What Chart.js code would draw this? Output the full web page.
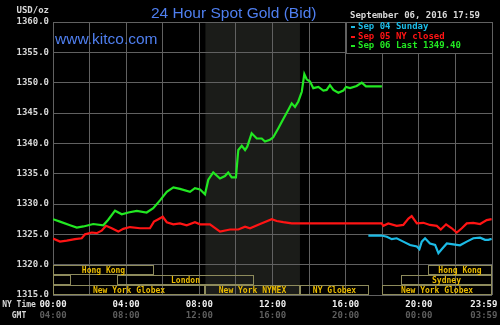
<!DOCTYPE html>
<html>
<head>
<meta charset="utf-8">
<title>24 Hour Spot Gold</title>
<script src="https://cdn.jsdelivr.net/npm/chart.js@4.4.1/dist/chart.umd.min.js"></script>
<style>
  html, body { margin: 0; padding: 0; background: #000; }
  canvas { display: block; }
</style>
</head>
<body>
<canvas id="gold-chart" width="500" height="325"></canvas>
<script>
// Hours after NY midnight, and bid prices (USD/oz) for each day
var sep06Hours = [0, 0.38, 0.93, 1.3, 1.66, 2.2, 2.75, 3.02, 3.39, 3.76, 4.12, 4.58, 5.12, 5.48, 5.85,
    6.22, 6.58, 6.94, 7.49, 7.76, 8.04, 8.31, 8.49, 8.76, 9.13, 9.4, 9.58, 9.77, 10.0, 10.13,
    10.32, 10.5, 10.62, 10.86, 11.14, 11.41, 11.59, 11.86, 12.04, 12.32, 12.59, 12.86, 13.05, 13.23, 13.41,
    13.6, 13.74, 13.87, 14.05, 14.23, 14.51, 14.78, 14.96, 15.14, 15.33, 15.6, 15.87, 16.02, 16.24, 16.6,
    16.88, 17.11, 17.51, 17.98];
var sep06Prices = [1327.5, 1327.1, 1326.5, 1326.1, 1326.3, 1326.7, 1326.5, 1327.4, 1328.9, 1328.3, 1328.6, 1328.85, 1328.6, 1329.3, 1330.6,
    1332.0, 1332.75, 1332.5, 1332.0, 1332.6, 1332.4, 1331.6, 1334.0, 1335.2, 1334.2, 1334.6, 1335.2, 1334.4, 1334.4, 1338.9,
    1339.6, 1338.9, 1339.45, 1341.65, 1340.8, 1340.8, 1340.3, 1340.6, 1341.0, 1342.5, 1344.0, 1345.5, 1346.6, 1346.0, 1346.9,
    1348.5, 1351.4, 1350.55, 1350.2, 1349.1, 1349.3, 1348.7, 1348.8, 1349.6, 1348.8, 1348.35, 1348.7, 1349.3, 1349.1, 1349.45,
    1350.0, 1349.4, 1349.4, 1349.4];

var sep05Hours = [0, 0.38, 0.75, 1.2, 1.57, 1.75, 2.12, 2.39, 2.66, 2.9, 3.21, 3.57, 3.84, 4.21, 4.76,
    5.3, 5.52, 5.76, 6.0, 6.22, 6.58, 6.94, 7.31, 7.76, 8.04, 8.58, 9.13, 9.68, 10.13, 10.5,
    10.77, 11.32, 11.96, 12.23, 12.59, 13.05, 17.97, 18.06, 18.33, 18.79, 19.15, 19.43, 19.61, 19.89, 20.25,
    20.61, 20.98, 21.2, 21.49, 21.8, 22.07, 22.35, 22.62, 22.98, 23.35, 23.71, 23.98];
var sep05Prices = [1324.3, 1323.8, 1323.95, 1324.2, 1324.35, 1325.0, 1325.3, 1325.2, 1325.6, 1326.4, 1326.0, 1325.45, 1325.9, 1326.2, 1326.0,
    1326.0, 1327.1, 1327.5, 1327.9, 1327.0, 1326.65, 1326.8, 1326.5, 1327.0, 1326.65, 1326.65, 1325.45, 1325.8, 1325.8, 1326.25,
    1326.0, 1326.7, 1327.5, 1327.2, 1327.0, 1326.8, 1326.8, 1326.4, 1326.8, 1326.4, 1326.55, 1327.6, 1328.0, 1326.8, 1326.9,
    1326.55, 1326.4, 1325.8, 1326.65, 1326.0, 1325.3, 1326.0, 1326.8, 1326.9, 1326.7, 1327.35, 1327.5];

var sep04Hours = [17.24, 17.97, 18.25, 18.52, 18.79, 19.15, 19.52, 19.89, 20.03, 20.16, 20.34, 20.61, 20.89, 21.07, 21.25,
    21.53, 21.89, 22.25, 22.62, 22.98, 23.35, 23.62, 23.8, 23.98];
var sep04Prices = [1324.8, 1324.8, 1324.6, 1324.2, 1324.35, 1323.8, 1323.25, 1323.0, 1322.55, 1323.8, 1324.35, 1323.5, 1323.25, 1321.9, 1322.55,
    1323.5, 1323.35, 1323.2, 1323.8, 1324.35, 1324.45, 1324.1, 1324.1, 1324.25];

// Trading sessions shown along the bottom (row 0 = top row)
var sessionNames = ['Hong Kong', 'Hong Kong', '', 'London', 'Sydney', 'New York Globex', 'New York NYMEX', 'NY Globex', 'New York Globex'];
var sessionStart = [0, 20.5, 0, 3.5, 19, 0, 8 + 20 / 60, 13.5, 18];
var sessionEnd = [5.5, 24, 1, 11, 24, 8 + 20 / 60, 13.5, 17.25, 24];
var sessionRow = [0, 0, 1, 1, 1, 2, 2, 2, 2];
var sessionFloor = 1320;

// NYMEX floor hours get a grey band
var nymexOpen = 8 + 20 / 60;
var nymexClose = 13.5;

var xTickHours = [0, 4, 8, 12, 16, 20, 24];
var yMin = 1315, yMax = 1360, yStep = 5;

var MONO = "'DejaVu Sans Mono', monospace";
var GRID = '#616161';

function toPoints(hours, prices) {
    return hours.map(function (h, i) { return { x: h, y: prices[i] }; });
}

function hhmm(h) {
    if (h >= 24) return '23:59';
    return (h < 10 ? '0' : '') + h + ':00';
}

function gmt(h) {
    if (h >= 24) return '03:59';
    var g = (h + 4) % 24;
    return (g < 10 ? '0' : '') + g + ':00';
}

var lastPrice = sep06Prices[sep06Prices.length - 1];

var datasets = [
    { label: 'Sep 06 Last ' + lastPrice.toFixed(2), data: toPoints(sep06Hours, sep06Prices), borderColor: '#22e822' },
    { label: 'Sep 05 NY closed', data: toPoints(sep05Hours, sep05Prices), borderColor: '#ff1414' },
    { label: 'Sep 04 Sunday', data: toPoints(sep04Hours, sep04Prices), borderColor: '#1cbbe6' }
];
datasets.forEach(function (d) {
    d.borderWidth = 2.2;
    d.pointRadius = 0;
    d.tension = 0;
    d.fill = false;
});

// Background, session shading, session boxes, titles and the legend
var decor = {
    id: 'decor',
    beforeDraw: function (chart) {
        var ctx = chart.ctx, a = chart.chartArea, x = chart.scales.x;
        ctx.save();
        ctx.fillStyle = '#000';
        ctx.fillRect(0, 0, chart.width, chart.height);
        var x0 = x.getPixelForValue(nymexOpen), x1 = x.getPixelForValue(nymexClose);
        ctx.fillStyle = '#1b1c19';
        ctx.fillRect(x0, a.top, x1 - x0, a.bottom - a.top);
        ctx.restore();
    },
    beforeDatasetsDraw: function (chart) {
        var ctx = chart.ctx, a = chart.chartArea, x = chart.scales.x, y = chart.scales.y;
        var top = y.getPixelForValue(sessionFloor);
        var rowH = (a.bottom - top) / 3;
        ctx.save();
        ctx.strokeStyle = '#8e8b5c';
        ctx.lineWidth = 1;
        ctx.font = 'bold 8px ' + MONO;
        ctx.fillStyle = '#eabb00';
        ctx.textAlign = 'center';
        ctx.textBaseline = 'middle';
        sessionNames.forEach(function (name, i) {
            var left = Math.round(x.getPixelForValue(sessionStart[i]));
            var right = Math.round(x.getPixelForValue(sessionEnd[i]));
            var t = Math.round(top + sessionRow[i] * rowH);
            ctx.strokeRect(left + 0.5, t + 0.5, right - left - 1, Math.round(rowH) - 1);
            if (name) ctx.fillText(name, (left + right) / 2, t + rowH / 2 + 0.5);
        });
        ctx.restore();
    },
    afterDraw: function (chart) {
        var ctx = chart.ctx, a = chart.chartArea;
        ctx.save();
        ctx.fillStyle = '#4f7ff0';
        ctx.font = "15.5px 'Liberation Sans', Arial, sans-serif";
        ctx.textBaseline = 'alphabetic';
        ctx.fillText('24 Hour Spot Gold (Bid)', 151, 18);
        ctx.fillText('www.kitco.com', 55, 44);

        ctx.font = 'bold 9px ' + MONO;
        ctx.textBaseline = 'middle';
        ctx.fillStyle = '#d8d8d8';
        ctx.textAlign = 'right';
        ctx.fillText('USD/oz', 49, 11);
        ctx.textAlign = 'left';
        ctx.fillText('September 06, 2016 17:59', 350, 16);

        ctx.textAlign = 'center';
        ctx.font = 'bold 8px ' + MONO;
        ctx.fillText('NY Time', 19, 305);
        ctx.fillText('GMT', 19, 316);

        // legend box in the top right corner of the plot
        var bw = 146, bh = 31;
        var bx = Math.round(a.right) - bw, by = Math.round(a.top);
        ctx.fillStyle = '#000';
        ctx.fillRect(bx, by, bw, bh);
        ctx.strokeStyle = GRID;
        ctx.strokeRect(bx + 0.5, by + 0.5, bw, bh);
        ctx.font = 'bold 9px ' + MONO;
        ctx.textAlign = 'left';
        var order = [2, 1, 0];
        order.forEach(function (di, row) {
            var ds = chart.data.datasets[di];
            var cy = by + 5 + row * 9.5;
            ctx.fillStyle = ds.borderColor;
            ctx.fillRect(bx + 5, Math.round(cy) - 1, 4, 2);
            ctx.fillText(ds.label, bx + 12, cy);
        });
        ctx.restore();
    }
};

var tickFont = { family: MONO, size: 9, weight: 'bold' };

new Chart(document.getElementById('gold-chart'), {
    type: 'line',
    data: { datasets: datasets },
    options: {
        responsive: false,
        animation: false,
        devicePixelRatio: 1,
        layout: { padding: { top: 22, right: 8, left: 0, bottom: 0 } },
        plugins: {
            legend: { display: false },
            tooltip: { enabled: false }
        },
        scales: {
            x: {
                type: 'linear',
                min: 0,
                max: 24,
                weight: 0,
                grid: { color: GRID, drawTicks: false },
                border: { display: false },
                ticks: {
                    stepSize: 2,
                    autoSkip: false,
                    maxRotation: 0,
                    padding: 4,
                    color: '#eeeeee',
                    font: tickFont,
                    // the last label sits left of its tick, padded with spaces
                    callback: function (v) {
                        if (xTickHours.indexOf(v) < 0) return '';
                        return v === 24 ? hhmm(v) + '   ' : hhmm(v);
                    }
                },
                afterFit: function (s) { s.height = 15; s.paddingLeft = 0; s.paddingRight = 0; }
            },
            x2: {
                type: 'linear',
                position: 'bottom',
                min: 0,
                max: 24,
                weight: 1,
                grid: { display: false, drawTicks: false },
                border: { display: false },
                ticks: {
                    stepSize: 2,
                    autoSkip: false,
                    maxRotation: 0,
                    padding: 0,
                    color: '#5e5e5e',
                    font: tickFont,
                    callback: function (v) {
                        if (xTickHours.indexOf(v) < 0) return '';
                        return v === 24 ? gmt(v) + '   ' : gmt(v);
                    }
                },
                afterFit: function (s) { s.height = 15; s.paddingLeft = 0; s.paddingRight = 0; }
            },
            y: {
                min: yMin,
                max: yMax,
                grid: { color: GRID, drawTicks: false },
                border: { display: false },
                ticks: {
                    stepSize: yStep,
                    padding: 4,
                    color: '#d8d8d8',
                    font: tickFont,
                    callback: function (v) { return v.toFixed(1); }
                },
                afterFit: function (s) { s.width = 53; s.paddingTop = 0; s.paddingBottom = 0; }
            }
        }
    },
    plugins: [decor]
});
</script>
</body>
</html>
